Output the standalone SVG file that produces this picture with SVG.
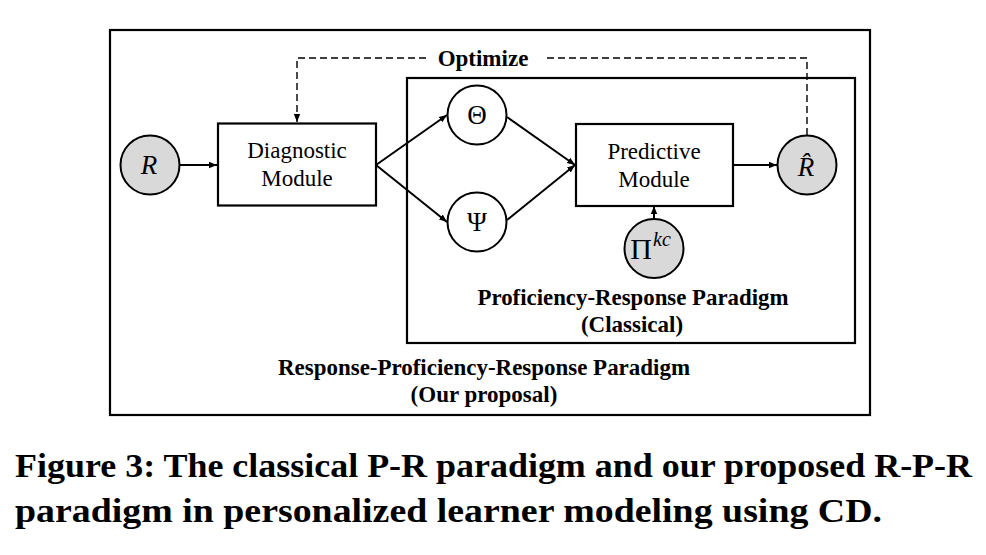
<svg xmlns="http://www.w3.org/2000/svg" width="986" height="555" viewBox="0 0 986 555">
<defs>
<style>
.box{fill:#fff;stroke:#000;stroke-width:2.2}
.frame{fill:none;stroke:#000;stroke-width:2.2}
.circ{fill:#fff;stroke:#000;stroke-width:2}
.gray{fill:#d9d9d9;stroke:#000;stroke-width:2}
.lbl{font-family:"Liberation Serif","Times New Roman",serif;font-size:23px;fill:#000;text-anchor:middle}
.bold{font-family:"Liberation Serif","Times New Roman",serif;font-weight:bold;font-size:23px;fill:#000;text-anchor:middle}
.sym{font-family:"Liberation Serif","DejaVu Serif",serif;font-size:27px;fill:#000;text-anchor:middle}
.cap{font-family:"Liberation Serif","Times New Roman",serif;font-weight:bold;font-size:34px;fill:#000}
.edge{fill:none;stroke:#000;stroke-width:2}
.dash{fill:none;stroke:#000;stroke-width:1.4;stroke-dasharray:7 4}
</style>
<marker id="ah2" viewBox="0 0 10 10" refX="10" refY="5" markerWidth="8" markerHeight="8" markerUnits="userSpaceOnUse" orient="auto">
<path d="M0,1 L10,5 L0,9 z" fill="#000"/>
</marker>
</defs>
<rect width="986" height="555" fill="#fff"/>

<g id="outer-frame">
<rect class="frame" x="110" y="30" width="760" height="385"/>
<text class="bold" x="484" y="375" textLength="412" lengthAdjust="spacingAndGlyphs">Response-Proficiency-Response Paradigm</text>
<text class="bold" x="484" y="402">(Our proposal)</text>
</g>

<g id="inner-frame">
<rect class="frame" x="407" y="78" width="448" height="265"/>
<text class="bold" x="633" y="305" textLength="311" lengthAdjust="spacingAndGlyphs">Proficiency-Response Paradigm</text>
<text class="bold" x="632" y="332">(Classical)</text>
</g>

<g id="connectors">
<line class="edge" x1="180" y1="165" x2="217" y2="165" marker-end="url(#ah2)"/>
<line class="edge" x1="376" y1="165" x2="447" y2="115" marker-end="url(#ah2)"/>
<line class="edge" x1="376" y1="165" x2="447" y2="222" marker-end="url(#ah2)"/>
<line class="edge" x1="507" y1="117" x2="575" y2="165" marker-end="url(#ah2)"/>
<line class="edge" x1="507" y1="220" x2="575" y2="165" marker-end="url(#ah2)"/>
<line class="edge" x1="733" y1="165" x2="777" y2="165" marker-end="url(#ah2)"/>
<line class="edge" x1="654" y1="219" x2="654" y2="206" marker-end="url(#ah2)"/>
<polyline class="dash" points="807,135 807,58 545,58"/>
<polyline class="dash" points="426,58 297,58 297,122" marker-end="url(#ah2)"/>
</g>

<g id="optimize-label">
<text class="bold" x="483" y="66">Optimize</text>
</g>

<g id="node-R">
<circle class="gray" cx="150" cy="165" r="29.5"/>
<text class="sym" x="149" y="174" font-style="italic">R</text>
</g>

<g id="node-diagnostic">
<rect class="box" x="218" y="123.5" width="158" height="82"/>
<text class="lbl" x="297" y="158">Diagnostic</text>
<text class="lbl" x="297" y="186">Module</text>
</g>

<g id="node-theta">
<circle class="circ" cx="477" cy="115" r="29.5"/>
<text class="sym" x="477" y="124">Θ</text>
</g>

<g id="node-psi">
<circle class="circ" cx="477" cy="222" r="29.5"/>
<text class="sym" x="477" y="231">Ψ</text>
</g>

<g id="node-predictive">
<rect class="box" x="576" y="124" width="157" height="82"/>
<text class="lbl" x="654" y="159">Predictive</text>
<text class="lbl" x="654" y="187">Module</text>
</g>

<g id="node-Rhat">
<circle class="gray" cx="807" cy="165" r="29.5"/>
<text class="sym" x="806" y="176" font-style="italic">R̂</text>
</g>

<g id="node-Pi">
<circle class="gray" cx="654" cy="248.5" r="29.5"/>
<text x="641" y="259" font-family="'Liberation Serif','DejaVu Serif',serif" font-size="30" text-anchor="middle">Π</text>
<text x="653" y="246" font-family="'Liberation Serif','DejaVu Serif',serif" font-size="20" font-style="italic">kc</text>
</g>

<g id="caption">
<text class="cap" x="15" y="477" textLength="957" lengthAdjust="spacingAndGlyphs">Figure 3: The classical P-R paradigm and our proposed R-P-R</text>
<text class="cap" x="15" y="522" textLength="867" lengthAdjust="spacingAndGlyphs">paradigm in personalized learner modeling using CD.</text>
</g>
</svg>
